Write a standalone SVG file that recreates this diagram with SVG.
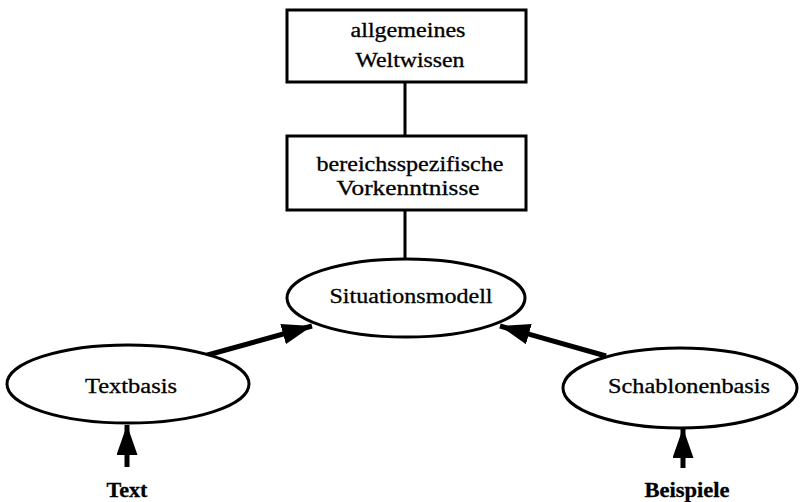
<svg xmlns="http://www.w3.org/2000/svg" width="800" height="502" viewBox="0 0 800 502">
  <style>
    .box { fill: #fff; stroke: #000; stroke-width: 3; }
    .ell { fill: #fff; stroke: #000; stroke-width: 3; }
    .lbl { font-family: "Liberation Serif", "Times New Roman", serif; font-size: 20px; fill: #000; stroke: #000; stroke-width: 0.3; text-anchor: middle; }
    .link { stroke: #000; stroke-width: 3; fill: none; }
    .arrow { stroke: #000; stroke-width: 5; fill: none; }
  </style>
  <defs>
    <marker id="head" viewBox="0 0 10 7" refX="10" refY="3.5" markerWidth="6" markerHeight="4.2" markerUnits="strokeWidth" orient="auto">
      <path d="M0,0 L10,3.5 L0,7 z" fill="#000"/>
    </marker>
  </defs>
  <rect width="800" height="502" fill="#fff"/>

  <!-- connectors -->
  <g id="connectors">
    <line class="link" x1="405" y1="82" x2="405" y2="136"/>
    <line class="link" x1="405" y1="210" x2="405" y2="259"/>
    <line class="arrow" x1="204" y1="356" x2="312" y2="326" marker-end="url(#head)"/>
    <line class="arrow" x1="606" y1="356" x2="500" y2="326" marker-end="url(#head)"/>
    <line class="arrow" x1="127" y1="467" x2="127" y2="425" marker-end="url(#head)"/>
    <line class="arrow" x1="683" y1="468" x2="683" y2="428" marker-end="url(#head)"/>
  </g>

  <g id="weltwissen">
    <rect class="box" x="287" y="10" width="239" height="72"/>
    <text class="lbl" x="408" y="37" textLength="115" lengthAdjust="spacingAndGlyphs">allgemeines</text>
    <text class="lbl" x="410" y="67" textLength="109" lengthAdjust="spacingAndGlyphs">Weltwissen</text>
  </g>

  <g id="vorkenntnisse">
    <rect class="box" x="287" y="136" width="239" height="74"/>
    <text class="lbl" x="410" y="171" textLength="187" lengthAdjust="spacingAndGlyphs">bereichsspezifische</text>
    <text class="lbl" x="408" y="195" textLength="143" lengthAdjust="spacingAndGlyphs">Vorkenntnisse</text>
  </g>

  <g id="situationsmodell">
    <ellipse class="ell" cx="406" cy="298" rx="119" ry="39"/>
    <text class="lbl" x="411" y="303" textLength="163" lengthAdjust="spacingAndGlyphs">Situationsmodell</text>
  </g>

  <g id="textbasis">
    <ellipse class="ell" cx="128" cy="384" rx="121" ry="39"/>
    <text class="lbl" x="131" y="393" textLength="92" lengthAdjust="spacingAndGlyphs">Textbasis</text>
  </g>

  <g id="schablonenbasis">
    <ellipse class="ell" cx="680" cy="388" rx="117" ry="40"/>
    <text class="lbl" x="689" y="393" textLength="162" lengthAdjust="spacingAndGlyphs">Schablonenbasis</text>
  </g>

  <g id="text">
    <text class="lbl" x="127" y="497" textLength="41" lengthAdjust="spacingAndGlyphs" font-weight="bold">Text</text>
  </g>

  <g id="beispiele">
    <text class="lbl" x="687" y="497" textLength="85" lengthAdjust="spacingAndGlyphs" font-weight="bold">Beispiele</text>
  </g>
</svg>
